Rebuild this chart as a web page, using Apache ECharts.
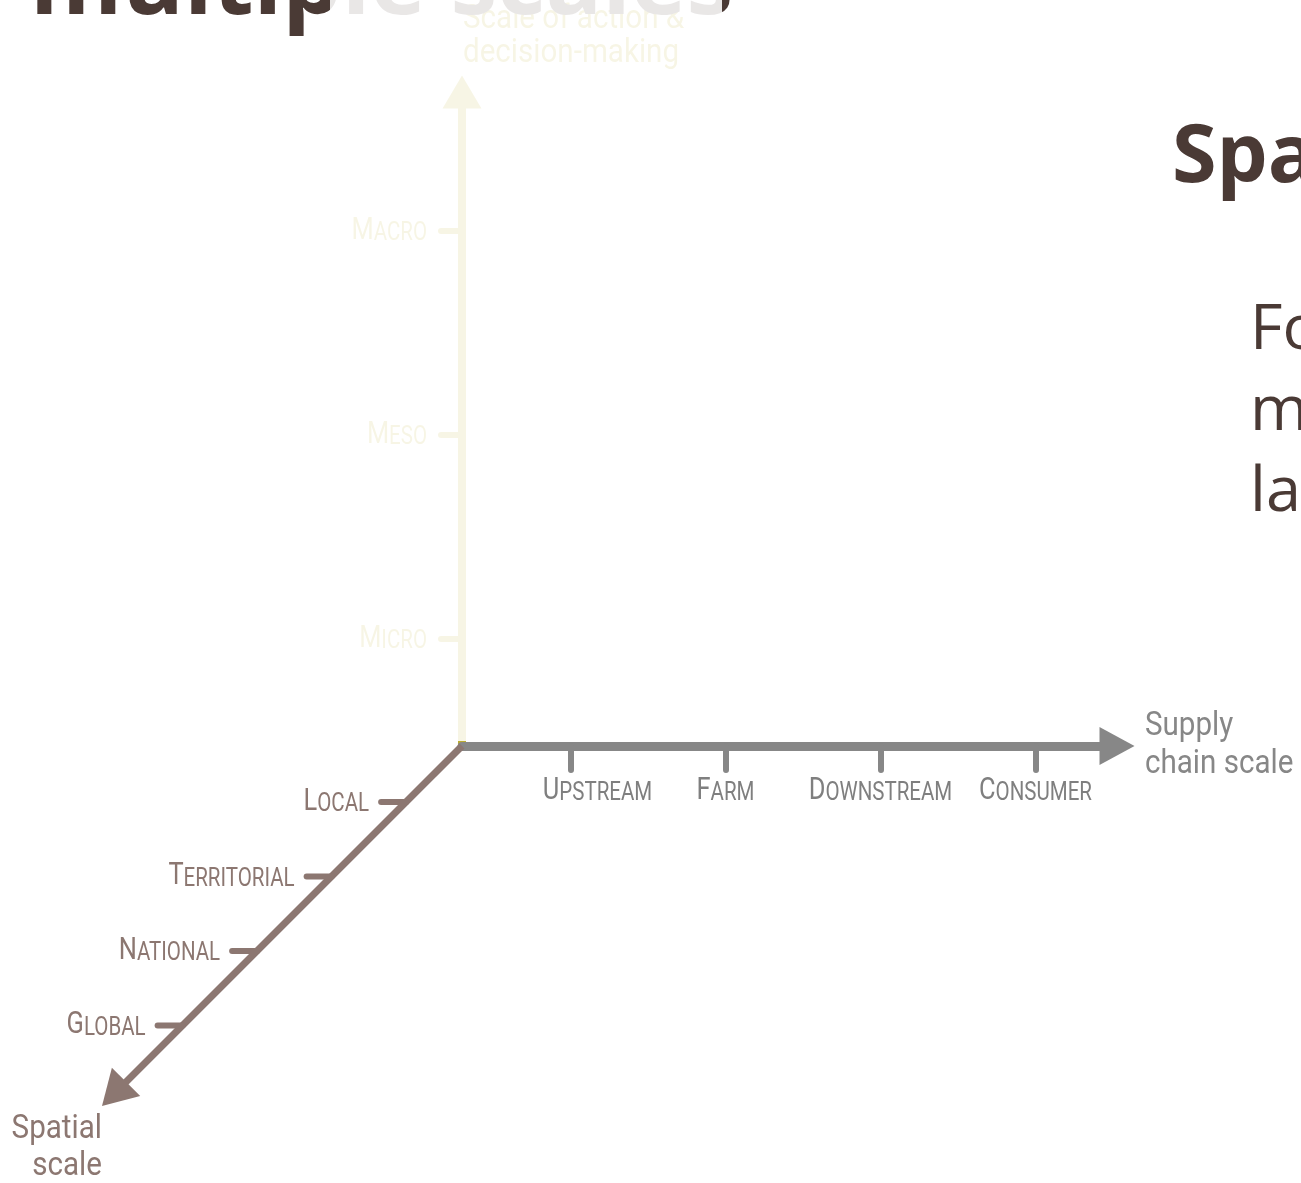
<!DOCTYPE html>
<html>
<head>
<meta charset="utf-8">
<title>Multiple scales</title>
<script src="https://cdn.jsdelivr.net/npm/echarts@6/dist/echarts.min.js"></script>
<style>
  html, body { margin: 0; padding: 0; background: #fff; }
  #chart { width: 1301px; height: 1183px; }
</style>
</head>
<body>
<div id="chart"></div>
<script>
  // categories on the three axes
  var supplyStages = ['Upstream', 'Farm', 'Downstream', 'Consumer']
  var decisionLevels = ['Micro', 'Meso', 'Macro']
  var spatialLevels = ['Local', 'Territorial', 'National', 'Global']
  var axisNames = ['Supply\nchain scale', 'Scale of action &\ndecision-making', 'Spatial\nscale']

  // axis extents in steps, the first category sits at 0
  var supplyRange = [-0.7, 3.526]
  var decisionRange = [-0.526, 2.683]
  var spatialRange = [-0.75, 4.082]

  var supplyTicks = supplyStages.map(function (s, i) { return i })
  var decisionTicks = decisionLevels.map(function (s, i) { return i })

  var COND = 'Roboto, sans-serif'
  var NARROW = 0.82 // squeeze Roboto to look like a condensed face
  var DARK = '#4a3a35'
  var GREY = '#878787'
  var OLIVE = '#bcac2f'
  var BROWN = '#8c7771'
  var UPSTREAM_SHIFT = 27 // first supply label sits right of its tick

  // small caps: big first letter, smaller upper case rest
  function smallCaps (word) {
    return '{c|' + word.charAt(0).toUpperCase() + '}{s|' + word.slice(1).toUpperCase() + '}'
  }
  function capsRich (color) {
    return {
      c: { fontFamily: COND, fontSize: 31, lineHeight: 31, fill: color, verticalAlign: 'bottom' },
      s: { fontFamily: COND, fontSize: 25, lineHeight: 25, fill: color, verticalAlign: 'bottom' }
    }
  }
  function capsText (x, y, word, color, align) {
    return {
      type: 'text', x: x, y: y, scaleX: NARROW,
      style: { text: smallCaps(word), rich: capsRich(color), align: align, verticalAlign: 'middle' }
    }
  }
  function nameText (x, y, text, color, align, vAlign, lineHeight) {
    return {
      type: 'text', x: x, y: y, scaleX: 0.87,
      style: { text: text, fill: color, font: '34px Roboto', lineHeight: lineHeight, align: align, verticalAlign: vAlign }
    }
  }

  var chart = echarts.init(document.getElementById('chart'))
  var option = {
    animation: false,
    backgroundColor: '#fff',
    grid: [
      { left: 462, right: 184, top: 92, bottom: 437, outerBoundsMode: 'none' },
      { left: 102, right: 839, top: 746, bottom: 77, outerBoundsMode: 'none' }
    ],
    xAxis: [
      {
        gridIndex: 0,
        type: 'value',
        min: supplyRange[0],
        max: supplyRange[1],
        axisLine: { show: true, onZero: false, symbol: ['none', 'triangle'], symbolSize: [38, 35], lineStyle: { color: GREY, width: 9 } },
        axisTick: { show: true, customValues: supplyTicks, length: 24, lineStyle: { color: GREY, width: 6, cap: 'round' } },
        axisLabel: { show: false },
        splitLine: { show: false }
      },
      { gridIndex: 1, type: 'value', min: spatialRange[0], max: spatialRange[1], inverse: true, show: false }
    ],
    yAxis: [
      {
        gridIndex: 0,
        type: 'value',
        min: decisionRange[0],
        max: decisionRange[1],
        axisLine: { show: true, onZero: false, symbol: ['none', 'triangle'], symbolSize: [39, 33], lineStyle: { color: OLIVE, width: 8 } },
        axisTick: { show: true, customValues: decisionTicks, length: 21, lineStyle: { color: OLIVE, width: 6, cap: 'round' } },
        axisLabel: { show: false },
        splitLine: { show: false }
      },
      { gridIndex: 1, type: 'value', min: spatialRange[0], max: spatialRange[1], inverse: true, show: false }
    ],
    series: [
      {
        // supply chain labels under the ticks
        type: 'custom',
        coordinateSystem: 'cartesian2d',
        silent: true,
        data: supplyTicks.map(function (i) { return [i, decisionRange[0]] }),
        renderItem: function (params, api) {
          var p = api.coord([api.value(0), api.value(1)])
          var dx = params.dataIndex === 0 ? UPSTREAM_SHIFT : 0
          return capsText(p[0] + dx, p[1] + 45, supplyStages[params.dataIndex], '#7f7f7f', 'center')
        }
      },
      {
        // decision levels left of the vertical axis
        type: 'custom',
        coordinateSystem: 'cartesian2d',
        silent: true,
        data: decisionTicks.map(function (i) { return [supplyRange[0], i] }),
        renderItem: function (params, api) {
          var p = api.coord([api.value(0), api.value(1)])
          return capsText(p[0] - 35, p[1], decisionLevels[params.dataIndex], OLIVE, 'right')
        }
      },
      {
        // names at the ends of the two straight axes
        type: 'custom',
        coordinateSystem: 'cartesian2d',
        silent: true,
        data: [[supplyRange[1], decisionRange[0]], [supplyRange[0], decisionRange[1]]],
        renderItem: function (params, api) {
          var p = api.coord([api.value(0), api.value(1)])
          if (params.dataIndex === 0) {
            return nameText(p[0] + 28, p[1] - 1, axisNames[0], GREY, 'left', 'middle', 38)
          }
          return nameText(p[0] + 1, p[1] - 90, axisNames[1], OLIVE, 'left', 'top', 34)
        }
      },
      {
        // spatial axis along the diagonal of the second grid, arrow tip at the max
        type: 'custom',
        coordinateSystem: 'cartesian2d',
        xAxisIndex: 1,
        yAxisIndex: 1,
        silent: true,
        data: [[spatialRange[0], spatialRange[0], spatialRange[1], spatialRange[1]]],
        renderItem: function (params, api) {
          var a = api.coord([api.value(0), api.value(1)])
          var tip = api.coord([api.value(2), api.value(3)])
          var dx = tip[0] - a[0]
          var dy = tip[1] - a[1]
          var len = Math.sqrt(dx * dx + dy * dy)
          var ux = dx / len
          var uy = dy / len
          var headLen = 34
          var half = 20
          var bx = tip[0] - ux * headLen
          var by = tip[1] - uy * headLen
          return {
            type: 'group',
            children: [
              { type: 'line', shape: { x1: a[0], y1: a[1], x2: bx + ux * 4, y2: by + uy * 4 }, style: { stroke: BROWN, lineWidth: 7 } },
              {
                type: 'polygon',
                shape: { points: [tip, [bx - uy * half, by + ux * half], [bx + uy * half, by - ux * half]] },
                style: { fill: BROWN }
              }
            ]
          }
        }
      },
      {
        type: 'custom',
        coordinateSystem: 'cartesian2d',
        xAxisIndex: 1,
        yAxisIndex: 1,
        silent: true,
        data: spatialLevels.map(function (s, i) { return [i, i] }),
        renderItem: function (params, api) {
          var p = api.coord([api.value(0), api.value(1)])
          return {
            type: 'group',
            children: [
              { type: 'line', shape: { x1: p[0] - 25, y1: p[1], x2: p[0], y2: p[1] }, style: { stroke: BROWN, lineWidth: 6, lineCap: 'round' } },
              capsText(p[0] - 37, p[1], spatialLevels[params.dataIndex], BROWN, 'right')
            ]
          }
        }
      },
      {
        type: 'custom',
        coordinateSystem: 'cartesian2d',
        xAxisIndex: 1,
        yAxisIndex: 1,
        silent: true,
        data: [[spatialRange[1], spatialRange[1]]],
        renderItem: function (params, api) {
          var p = api.coord([api.value(0), api.value(1)])
          return nameText(p[0], p[1] + 5, axisNames[2], BROWN, 'right', 'top', 37)
        }
      }
    ],
    graphic: [
      { type: 'text', x: 30, y: -13, z: 50, style: { text: 'multiple scales', font: 'bold 94px "Open Sans"', fill: DARK, verticalAlign: 'middle' } },
      { type: 'text', x: 1172, y: 159, z: 50, style: { text: 'Spatial', font: 'bold 81px "Open Sans"', fill: DARK, verticalAlign: 'middle' } },
      { type: 'text', x: 1250, y: 291, z: 50, style: { text: 'Food\nmore\nlarge', font: '63px "Open Sans"', lineHeight: 81, fill: DARK, verticalAlign: 'top' } },
      // washed-out panel over the middle of the slide
      { type: 'rect', z: 100, shape: { x: 330, y: 0, width: 392, height: 741 }, style: { fill: '#fff', opacity: 0.88 } }
    ]
  }
  chart.setOption(option)
  window.addEventListener('resize', function () { chart.resize() })
</script>
</body>
</html>
